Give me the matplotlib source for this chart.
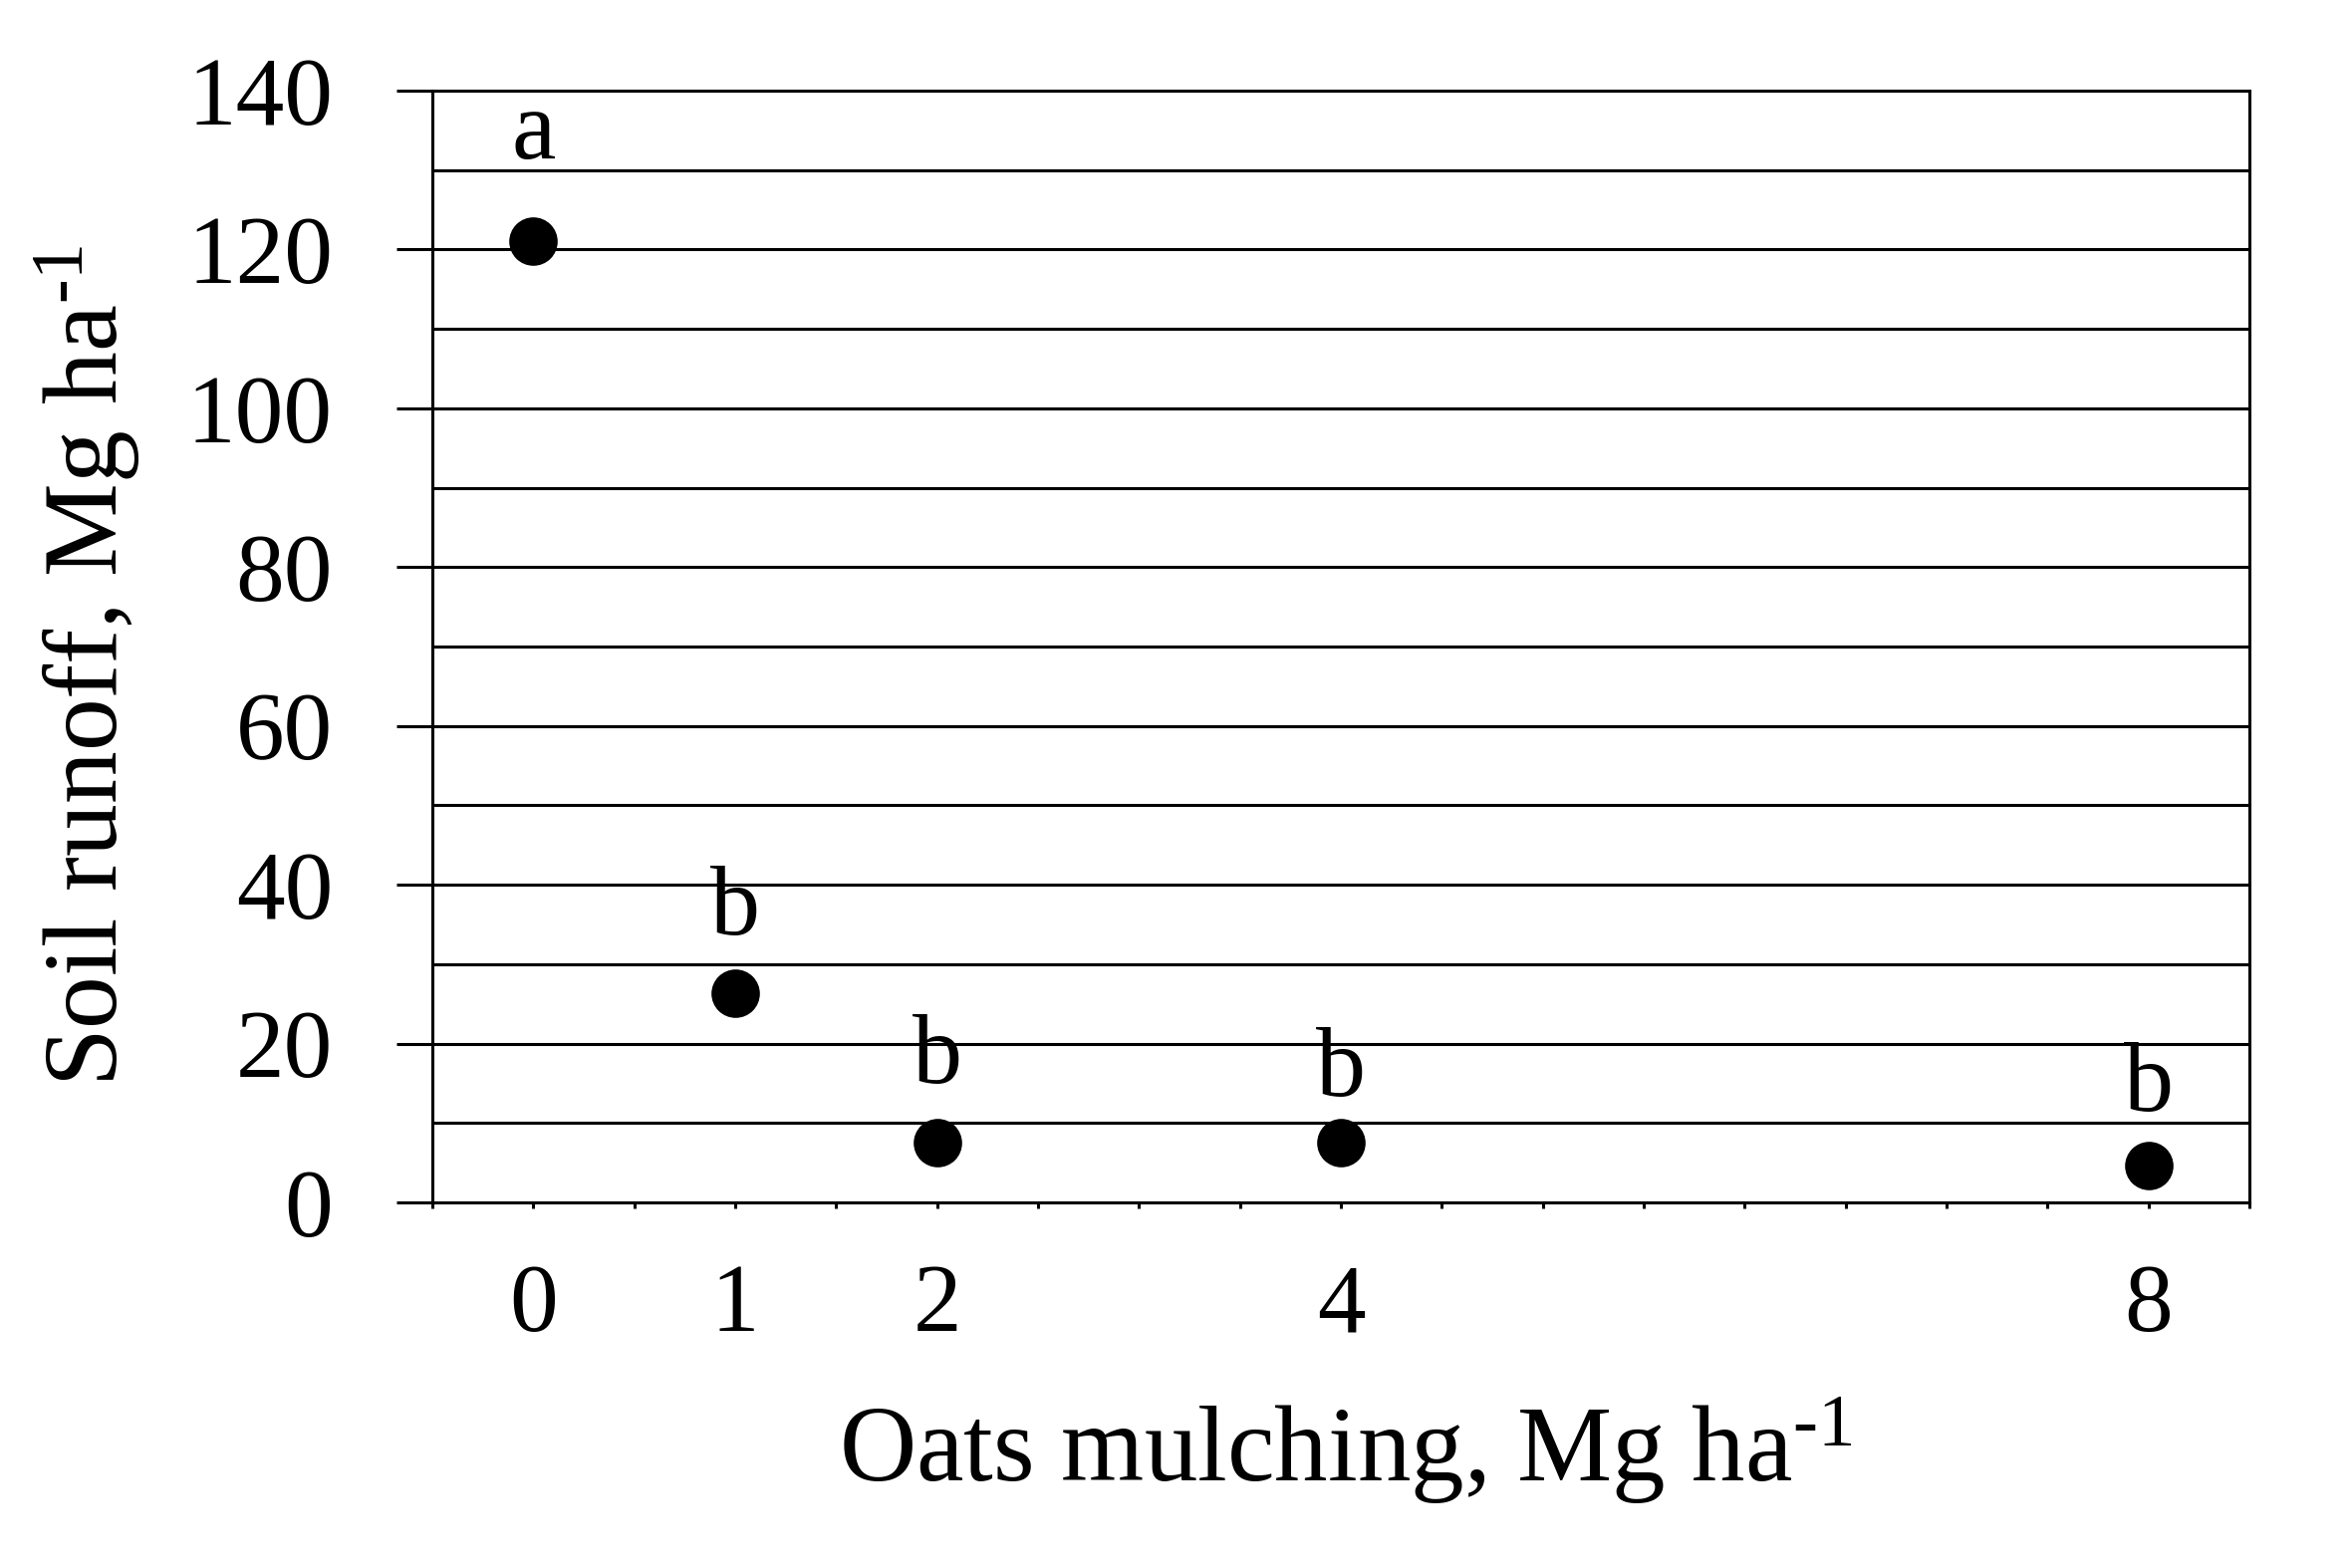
import numpy as np
import matplotlib
matplotlib.use("Agg")
from matplotlib import pyplot as plt

# values
mulch = [0, 1, 2, 4, 8]
runoff = [121.1, 26.4, 7.5, 7.5, 4.6]
letters = ["a", "b", "b", "b", "b"]
letter_y = [131.5, 33.8, 15.1, 13.4, 11.6]  # baselines of the letters
y_ticks = [0, 20, 40, 60, 80, 100, 120, 140]

plt.rcParams["font.family"] = ["Liberation Serif", "DejaVu Serif"]
plt.rcParams["mathtext.fontset"] = "custom"
plt.rcParams["mathtext.rm"] = "Liberation Serif"
plt.rcParams["mathtext.it"] = "Liberation Serif:italic"

W, H = 2361, 1574
fig = plt.figure(figsize=(W / 100, H / 100), dpi=100)
ax = fig.add_axes([434 / W, 1 - 1207 / H, (2258 - 434) / W, (1207 - 91) / H])

lw = 2.2
ax.set_xlim(-0.5, 8.5)
ax.set_ylim(0, 140)

# horizontal grid every 10
for yv in np.arange(10, 140, 10):
  ax.axhline(yv, color="black", lw=lw, zorder=1)

ax.plot(mulch, runoff, "o", color="black", markersize=35, markeredgewidth=0,
        zorder=3, clip_on=False)

for xv, yv, t in zip(mulch, letter_y, letters):
  ax.text(xv, yv, t, ha="center", va="baseline", fontsize=72)

for s in ax.spines.values():
  s.set_linewidth(lw)

ax.set_yticks(y_ticks)
ax.set_yticklabels([str(v) for v in y_ticks])
ax.tick_params(axis="y", direction="out", length=26, width=lw, pad=46,
               labelsize=70)

ax.set_xticks(mulch)
ax.set_xticklabels([str(v) for v in mulch])
ax.set_xticks(np.arange(-0.5, 8.51, 0.5), minor=True)
ax.tick_params(axis="x", which="both", direction="out", length=4.5, width=lw,
               pad=40, labelsize=70)

sup = r"$^{\mathregular{\u2010}1}$".replace(r"\u2010", "\u2010")
fig.text(1351 / W, 1 - 1487 / H, "Oats mulching, Mg ha" + sup,
         ha="center", va="baseline", fontsize=77)
fig.text(118 / W, 1 - 668 / H, "Soil runoff, Mg ha" + sup,
         ha="center", va="baseline", rotation=90, rotation_mode="anchor",
         fontsize=76)

fig.savefig("out.png", dpi=100)
